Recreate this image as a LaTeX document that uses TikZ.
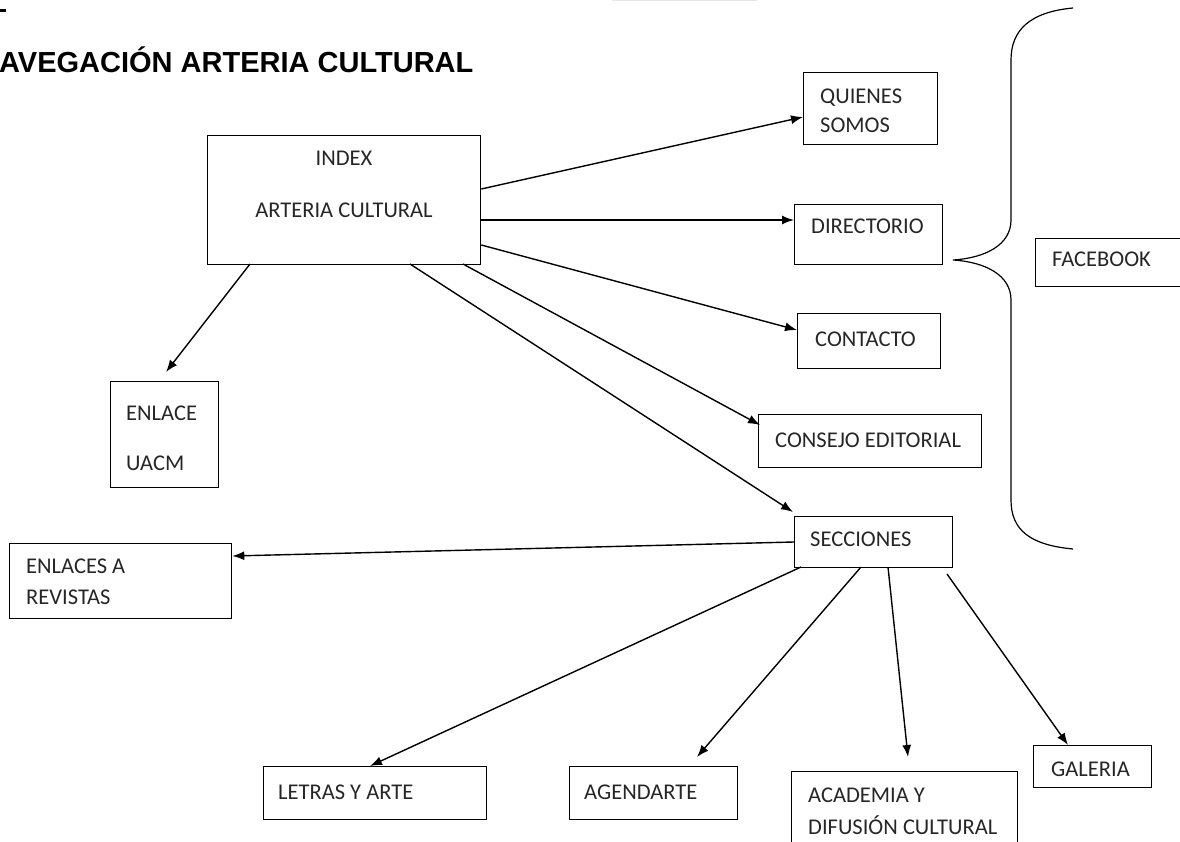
\documentclass[tikz,border=0pt]{standalone}
\usepackage{fontspec}
\setmainfont{Carlito}
\newfontfamily\titlefont{Liberation Sans}
\usetikzlibrary{arrows.meta}
\begin{document}
\begin{tikzpicture}[x=1pt,y=-1pt,
  box/.style={draw, line width=1.3pt, inner sep=0pt, anchor=north west},
  txt/.style={inner sep=0pt, anchor=base west, font=\fontsize{22.5}{26}\selectfont, text=black!85},
  ctxt/.style={txt, anchor=base},
  conn/.style={line width=1.4pt, -{Latex[length=12pt,width=9pt]}}]
\useasboundingbox (0,0) rectangle (1180,842);
% title fragments
\draw[line width=3pt] (0,11) -- (6,11);
\draw[black!10, line width=1pt] (612,0.5) -- (757,0.5);
\node[anchor=base west, inner sep=0pt, font=\titlefont\bfseries\fontsize{29}{32}\selectfont] (title) at (-1,73) {AVEGACIÓN ARTERIA CULTURAL};
% boxes
\node[box, minimum width=273pt, minimum height=129pt] (idx) at (207,135) {};
\node[ctxt] (idxa) at (344,166) {INDEX};
\node[ctxt] (idxb) at (344,218) {ARTERIA CULTURAL};

\node[box, minimum width=134pt, minimum height=72pt] (qs) at (803,72) {};
\node[txt] (qsa) at (820,104) {QUIENES};
\node[txt] (qsb) at (820,133) {SOMOS};

\node[box, minimum width=148pt, minimum height=60pt] (dir) at (794,204) {};
\node[txt] (dira) at (811,234) {DIRECTORIO};

\node[box, minimum width=143pt, minimum height=55pt] (con) at (797,313) {};
\node[txt] (cona) at (815,346) {CONTACTO};

\node[box, minimum width=223pt, minimum height=53pt] (cons) at (758,414) {};
\node[txt] (consa) at (775,447) {CONSEJO EDITORIAL};

\node[box, minimum width=158pt, minimum height=51pt] (sec) at (794,516) {};
\node[txt] (seca) at (810,546) {SECCIONES};

\node[box, minimum width=160pt, minimum height=48pt] (fb) at (1035,238) {};
\node[txt] (fba) at (1052,266) {FACEBOOK};

\node[box, minimum width=108pt, minimum height=106pt] (enl) at (110,381) {};
\node[txt] (enla) at (126,420) {ENLACE};
\node[txt] (enlb) at (126,470) {UACM};

\node[box, minimum width=222pt, minimum height=75pt] (rev) at (9,543) {};
\node[txt] (reva) at (26,573) {ENLACES A};
\node[txt] (revb) at (26,604) {REVISTAS};

\node[box, minimum width=223pt, minimum height=53pt] (let) at (263,766) {};
\node[txt] (leta) at (278,799) {LETRAS Y ARTE};

\node[box, minimum width=168pt, minimum height=53pt] (age) at (569,766) {};
\node[txt] (agea) at (584,799) {AGENDARTE};

\node[box, minimum width=226pt, minimum height=75pt] (aca) at (791,771) {};
\node[txt] (acaa) at (808,802) {ACADEMIA Y};
\node[txt] (acab) at (808,834) {DIFUSIÓN CULTURAL};

\node[box, minimum width=118pt, minimum height=42pt] (gal) at (1033,745) {};
\node[txt] (gala) at (1051,776) {GALERIA};

% brace
\draw[line width=1.2pt] (1073,8) .. controls (1030,12) and (1011,30) .. (1011,60)
  -- (1011,220) .. controls (1011,245) and (985,258) .. (953,260)
  .. controls (985,262) and (1011,275) .. (1011,300)
  -- (1011,500) .. controls (1011,530) and (1030,545) .. (1073,549);

% connectors
\coordinate (g1) at (947,574);
\draw[conn] (idx.east |- 0,189) -- (qs.west |- 0,117);
\draw[conn] (idx.east |- 0,220) -- (dir.west |- 0,220);
\draw[conn] (idx.east |- 0,245) -- (con.west |- 0,330);
\draw[conn] (463,264) -- (760,425);
\draw[conn] (410,264) -- (793,512);
\draw[conn] (250,264) -- (166,372);
\draw[conn] (sec.west |- 0,542) -- (rev.east |- 0,556);
\draw[conn] (801,567) -- (370,766);
\draw[conn] (861,567) -- (697,757);
\draw[conn] (888,567) -- (908,757);
\draw[conn] (g1) -- (1068,745);
\end{tikzpicture}
\end{document}
